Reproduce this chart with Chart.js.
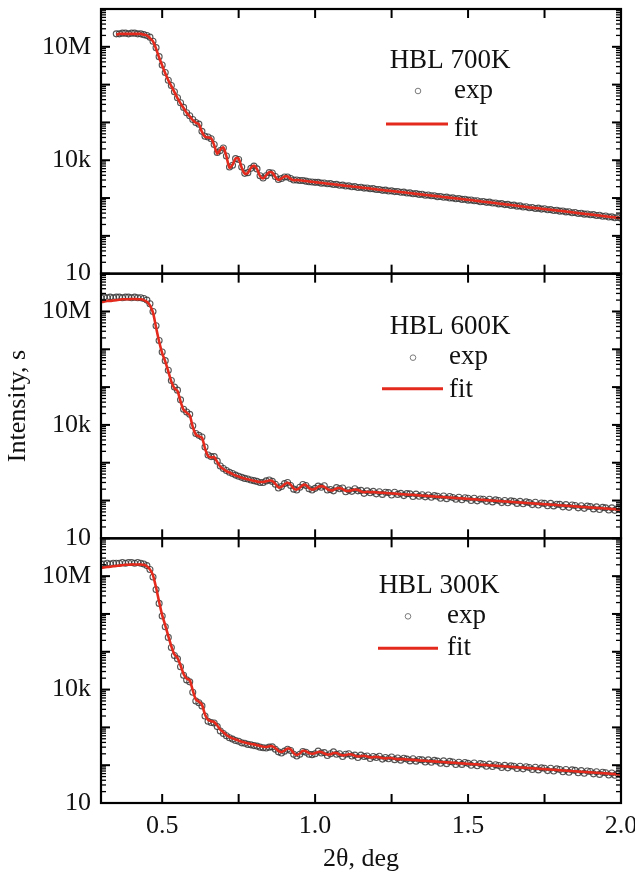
<!DOCTYPE html>
<html>
<head>
<meta charset="utf-8">
<script src="https://cdn.jsdelivr.net/npm/chart.js@4.4.1/dist/chart.umd.min.js"></script>
<style>
  html, body { margin: 0; padding: 0; background: #fff; }
</style>
</head>
<body>
<canvas id="xrr" width="635" height="875"></canvas>
<script>
// ---- Data: 2theta (deg) and intensity (s) ----
const angle = [
  0.30,0.31,0.32,0.33,0.34,0.35,0.36,0.37,0.38,0.39,
  0.40,0.41,0.42,0.43,0.44,0.45,0.46,0.47,0.48,0.49,
  0.50,0.51,0.52,0.53,0.54,0.55,0.56,0.57,0.58,0.59,
  0.60,0.61,0.62,0.63,0.64,0.65,0.66,0.67,0.68,0.69,
  0.70,0.71,0.72,0.73,0.74,0.75,0.76,0.77,0.78,0.79,
  0.80,0.81,0.82,0.83,0.84,0.85,0.86,0.87,0.88,0.89,
  0.90,0.91,0.92,0.93,0.94,0.95,0.96,0.97,0.98,0.99,
  1.00,1.01,1.02,1.03,1.04,1.05,1.06,1.07,1.08,1.09,
  1.10,1.11,1.12,1.13,1.14,1.15,1.16,1.17,1.18,1.19,
  1.20,1.21,1.22,1.23,1.24,1.25,1.26,1.27,1.28,1.29,
  1.30,1.31,1.32,1.33,1.34,1.35,1.36,1.37,1.38,1.39,
  1.40,1.41,1.42,1.43,1.44,1.45,1.46,1.47,1.48,1.49,
  1.50,1.51,1.52,1.53,1.54,1.55,1.56,1.57,1.58,1.59,
  1.60,1.61,1.62,1.63,1.64,1.65,1.66,1.67,1.68,1.69,
  1.70,1.71,1.72,1.73,1.74,1.75,1.76,1.77,1.78,1.79,
  1.80,1.81,1.82,1.83,1.84,1.85,1.86,1.87,1.88,1.89,
  1.90,1.91,1.92,1.93,1.94,1.95,1.96,1.97,1.98,1.99,
  2.00
];

// HBL 700K
const exp700 = [
  null,null,null,null,null,2.2e7,2.2e7,2.3e7,2.3e7,2.2e7,
  2.3e7,2.3e7,2.2e7,2.2e7,2.1e7,2.0e7,1.8e7,1.4e7,9.5e6,5.5e6,
  3.3e6,2.1e6,1.3e6,9.5e5,6.5e5,4.5e5,3.3e5,2.5e5,1.8e5,1.5e5,
  1.2e5,1.0e5,9.0e4,5.8e4,4.3e4,4.1e4,3.7e4,2.6e4,1.6e4,1.8e4,
  2.1e4,1.3e4,6600,7400,1.1e4,1.05e4,6600,4500,4700,6100,
  7000,5900,3900,3400,3900,4700,4600,3700,3100,3300,
  3600,3600,3300,3000,3000,2900,2900,2800,2700,2650,
  2600,2600,2480,2500,2380,2400,2280,2300,2180,2200,
  2080,2100,1990,2010,1900,1930,1830,1850,1760,1770,
  1680,1690,1600,1620,1540,1550,1480,1490,1420,1430,
  1360,1370,1300,1310,1250,1260,1190,1200,1150,1150,
  1090,1100,1050,1060,1000,1010,960,970,920,930,
  880,890,850,850,800,810,770,780,740,740,
  700,710,670,680,640,650,610,620,580,590,
  555,560,530,540,510,520,490,495,470,475,
  450,455,430,435,410,415,390,395,375,380,
  360,365,345,350,330,335,315,318,300,305,
  290
];
const fit700 = [
  null,null,null,null,null,2.1e7,2.2e7,2.2e7,2.2e7,2.2e7,
  2.2e7,2.2e7,2.2e7,2.2e7,2.1e7,2.0e7,1.7e7,1.4e7,8.9e6,5.2e6,
  3.2e6,2.0e6,1.3e6,9.1e5,6.3e5,4.4e5,3.2e5,2.4e5,1.8e5,1.45e5,
  1.15e5,9.8e4,8.9e4,5.6e4,4.2e4,4.0e4,3.8e4,2.5e4,1.5e4,1.9e4,
  2.2e4,1.26e4,6300,7600,1.12e4,1.1e4,6300,4400,4600,6300,
  7200,5800,3800,3300,4000,4800,4700,3600,3000,3300,
  3700,3700,3200,2950,3000,2950,2880,2820,2750,2690,
  2630,2570,2520,2460,2410,2360,2310,2260,2210,2160,
  2110,2070,2020,1980,1940,1900,1860,1820,1780,1740,
  1700,1660,1630,1590,1560,1530,1500,1470,1440,1410,
  1380,1350,1320,1290,1270,1240,1210,1190,1160,1140,
  1110,1090,1070,1040,1020,1000,980,960,940,920,
  900,880,860,840,820,800,785,770,750,735,
  720,700,685,670,655,640,625,610,595,580,
  565,555,545,535,520,510,500,490,480,470,
  460,450,440,430,420,410,400,392,384,376,
  368,360,352,344,336,328,320,313,306,300,
  294
];

// HBL 600K
const exp600 = [
  2.3e7,2.4e7,2.3e7,2.4e7,2.3e7,2.4e7,2.4e7,2.3e7,2.4e7,2.4e7,
  2.3e7,2.4e7,2.3e7,2.3e7,2.2e7,2.0e7,1.6e7,1.0e7,4.2e6,1.7e6,
  8.5e5,5.0e5,2.8e5,1.5e5,1.0e5,8.3e4,4.6e4,2.6e4,2.2e4,1.9e4,
  9500,5900,5300,4800,2600,1600,1450,1450,1100,820,
  700,620,560,520,470,440,410,385,370,350,
  335,320,300,300,330,350,320,270,215,235,
  280,300,250,200,190,225,265,250,205,190,
  210,240,225,245,190,195,180,220,205,215,
  170,190,175,205,180,185,155,180,160,175,
  150,170,145,165,162,140,165,145,155,135,
  152,150,128,148,130,142,125,140,122,135,
  130,115,132,112,128,120,108,122,105,118,
  115,100,115,98,110,108,95,108,92,104,
  100,88,100,87,98,95,84,95,82,92,
  88,78,90,76,86,84,73,84,72,80,
  79,68,78,66,76,74,64,73,62,71,
  69,60,68,58,66,64,56,64,55,62,
  57
];
const fit600 = [
  1.8e7,1.8e7,1.9e7,1.9e7,1.95e7,2.0e7,2.04e7,2.1e7,2.1e7,2.1e7,
  2.14e7,2.14e7,2.1e7,2.1e7,2.0e7,1.8e7,1.45e7,9.3e6,3.8e6,1.6e6,
  7.9e5,4.8e5,2.6e5,1.4e5,9.3e4,7.9e4,4.2e4,2.5e4,2.1e4,1.8e4,
  8900,5600,5000,4600,2400,1500,1380,1410,1050,790,
  680,600,550,500,460,430,400,380,363,347,
  331,316,309,309,324,339,331,275,224,229,
  269,295,263,209,195,219,257,257,214,195,
  204,229,240,229,200,186,191,209,214,200,
  182,178,186,195,191,174,166,170,166,167,
  164,162,160,158,156,154,152,150,148,146,
  144,142,141,139,137,135,133,132,130,128,
  126,124.5,123,121,120,118,117,115,114,112,
  111,109,108,106,105,104,102,101,99.6,98.3,
  97,95.8,94.6,93.4,92.2,91,89.8,88.6,87.4,86.3,
  85.1,84,83,82,81,80,79,78,77,76,
  74.7,73.7,72.7,71.8,70.9,70,69,68,67.2,66.3,
  65.5,64.6,63.8,63,62.2,61.4,60.6,59.8,59,58.3,
  57.5
];

// HBL 300K
const exp300 = [
  2.1e7,2.1e7,2.2e7,2.1e7,2.2e7,2.2e7,2.2e7,2.3e7,2.2e7,2.3e7,
  2.3e7,2.2e7,2.3e7,2.2e7,2.1e7,1.9e7,1.5e7,9.5e6,4.4e6,1.9e6,
  8.8e5,4.6e5,2.4e5,1.3e5,8.0e4,6.5e4,4.0e4,2.4e4,1.8e4,1.6e4,
  8500,5000,4500,3700,2000,1450,1350,1300,1050,800,
  690,600,530,490,450,430,390,380,355,345,
  330,320,300,290,285,300,305,265,225,210,
  235,265,245,195,175,195,230,220,195,190,
  200,235,210,215,180,200,225,195,200,170,
  195,200,175,185,160,185,170,175,150,170,
  160,172,145,160,148,165,140,155,136,152,
  145,130,148,128,142,138,122,138,120,134,
  128,113,130,110,126,122,104,120,105,118,
  112,100,114,97,110,106,94,107,92,103,
  98,87,99,85,96,94,82,94,80,91,
  87,77,88,75,85,83,72,83,70,80,
  77,67,77,65,75,73,63,72,61,70,
  68,59,67,57,65,63,55,62,54,60,
  55
];
const fit300 = [
  1.66e7,1.7e7,1.74e7,1.78e7,1.82e7,1.86e7,1.9e7,1.95e7,2.0e7,2.0e7,
  2.04e7,2.04e7,2.04e7,2.04e7,2.0e7,1.82e7,1.51e7,1.05e7,5.0e6,2.1e6,
  9.3e5,5.0e5,2.6e5,1.4e5,8.5e4,6.9e4,4.4e4,2.6e4,1.95e4,1.78e4,
  9500,5500,4800,4000,2200,1580,1450,1380,1120,870,
  740,630,560,513,479,447,417,398,380,363,
  355,339,324,309,302,316,316,282,240,224,
  245,275,263,209,186,204,240,234,209,200,
  209,224,224,204,191,195,209,209,191,182,
  186,195,191,178,170,174,178,170,162,162,
  166,162,155,151,155,155,148,145,145,145,
  141,139,138,136,134,132,131,129,127,126,
  124,122,121,119,118,116,115,113,112,110,
  109,107,106,105,103,102,101,99,98,97,
  95.5,94.3,93.1,91.9,90.7,89.5,88.3,87.2,86.1,85,
  83.9,82.8,81.7,80.6,79.6,78.6,77.6,76.6,75.6,74.6,
  73.6,72.6,71.7,70.8,69.9,69,68.1,67.2,66.3,65.4,
  64.6,63.8,63,62.2,61.4,60.6,59.8,59,58.2,57.5,
  56.7
];

const panelNames  = ['HBL 700K', 'HBL 600K', 'HBL 300K'];
const xTickValues = [0.5, 1.0, 1.5, 2.0];
const yTickValues = [10, 1e4, 1e7];
const yTickLabels = ['10', '10k', '10M'];

// ---- Styles ----
const SERIF = "'Liberation Serif', 'Times New Roman', serif";
const FONT  = { family: SERIF, size: 26 };
const INK   = '#111';
const RED   = '#e32a1c';
const GREY  = 'rgba(55,55,55,0.85)';
const PANELS = ['y1', 'y2', 'y3'];   // top to bottom

// legend placement inside each panel (px from panel top)
const LEGEND_POS = [
  { tx: 450, tY: 59, cx: 418, cY: 82, ex: 454, eY: 89, l1: 386, l2: 448, lY: 115, fY: 127 },
  { tx: 450, tY: 60, cx: 413, cY: 84, ex: 449, eY: 90, l1: 382, l2: 443, lY: 115, fY: 123 },
  { tx: 439, tY: 55, cx: 408, cY: 78, ex: 447, eY: 85, l1: 378, l2: 438, lY: 110, fY: 117 },
];

function points(ys) {
  return angle.map((x, i) => ({ x, y: ys[i] })).filter(p => p.y != null);
}

function expSet(ys, axis) {
  return {
    label: 'exp', data: points(ys), yAxisID: axis, order: 2,
    showLine: false, pointStyle: 'circle', pointRadius: 3, pointBorderWidth: 1.1,
    pointBorderColor: GREY, pointBackgroundColor: 'rgba(255,255,255,0)',
  };
}

function fitSet(ys, axis) {
  return {
    label: 'fit', data: points(ys), yAxisID: axis, order: 1,
    showLine: true, borderColor: RED, borderWidth: 2.6, tension: 0.25,
    pointRadius: 0, fill: false,
  };
}

function yAxis(withTitle) {
  return {
    type: 'logarithmic', position: 'left', stack: 'panels', stackWeight: 1,
    min: 10, max: 1e8,
    afterBuildTicks: s => { s.ticks = yTickValues.map(v => ({ value: v })); },
    afterFit: s => { s.width = 101; s.paddingTop = 0; s.paddingBottom = 0; },
    ticks: {
      font: FONT, color: INK, padding: 10, autoSkip: false,
      callback: v => yTickLabels[yTickValues.indexOf(v)] ?? '',
    },
    grid: { display: false, drawTicks: false },
    border: { display: false },
    title: {
      display: withTitle, text: 'Intensity, s', font: FONT, color: INK,
      padding: { top: 3, bottom: 0 },
    },
  };
}

// ---- Frames, inward ticks and per-panel legends ----
function line(ctx, x1, y1, x2, y2) {
  ctx.beginPath(); ctx.moveTo(x1, y1); ctx.lineTo(x2, y2); ctx.stroke();
}

const framePlugin = {
  id: 'frames',
  afterDatasetsDraw(chart) {
    const { ctx } = chart;
    const xs = chart.scales.x;
    const L = xs.left, R = xs.right;
    ctx.save();
    ctx.strokeStyle = '#000';
    PANELS.forEach(id => {
      const ys = chart.scales[id];
      const T = ys.top, B = ys.bottom;
      // x ticks every 0.25 deg, top and bottom
      ctx.lineWidth = 2;
      for (let v = 0.5; v <= 2.0001; v += 0.25) {
        const px = xs.getPixelForValue(v);
        line(ctx, px, T, px, T + 9);
        line(ctx, px, B, px, B - 9);
      }
      // y ticks: decades long, 2..9 short
      for (let e = 1; e < 8; e++) {
        for (let m = 1; m <= 9; m++) {
          const py = ys.getPixelForValue(m * Math.pow(10, e));
          const len = m === 1 ? 9 : 5;
          ctx.lineWidth = m === 1 ? 2 : 1.3;
          line(ctx, L, py, L + len, py);
          line(ctx, R, py, R - len, py);
        }
      }
      ctx.lineWidth = 2.2;
      ctx.strokeRect(L, T, R - L, B - T);
    });
    ctx.restore();
  },
  afterDraw(chart) {
    const { ctx } = chart;
    ctx.save();
    ctx.fillStyle = INK;
    ctx.textBaseline = 'alphabetic';
    PANELS.forEach((id, k) => {
      const top = chart.scales[id].top;
      const p = LEGEND_POS[k];
      ctx.font = `27px ${SERIF}`;
      ctx.textAlign = 'center';
      ctx.fillText(panelNames[k], p.tx, top + p.tY);
      ctx.textAlign = 'left';
      ctx.fillText('exp', p.ex, top + p.eY);
      ctx.fillText('fit', p.ex, top + p.fY);
      ctx.strokeStyle = 'rgba(110,110,110,0.9)';
      ctx.lineWidth = 1;
      ctx.beginPath(); ctx.arc(p.cx, top + p.cY, 2.8, 0, Math.PI * 2); ctx.stroke();
      ctx.strokeStyle = RED;
      ctx.lineWidth = 3;
      line(ctx, p.l1, top + p.lY, p.l2, top + p.lY);
    });
    ctx.restore();
  }
};

new Chart(document.getElementById('xrr'), {
  type: 'scatter',
  data: {
    datasets: [
      fitSet(fit700, 'y1'), expSet(exp700, 'y1'),
      fitSet(fit600, 'y2'), expSet(exp600, 'y2'),
      fitSet(fit300, 'y3'), expSet(exp300, 'y3'),
    ]
  },
  options: {
    responsive: false,
    animation: false,
    layout: { padding: { top: 9, right: 14, bottom: 0, left: 0 } },
    plugins: { legend: { display: false }, tooltip: { enabled: false } },
    scales: {
      x: {
        type: 'linear', min: 0.3, max: 2.0,
        afterBuildTicks: s => { s.ticks = xTickValues.map(v => ({ value: v })); },
        afterFit: s => { s.height = 72; s.paddingLeft = 0; s.paddingRight = 0; },
        ticks: {
          font: FONT, color: INK, padding: 8, maxRotation: 0, autoSkip: false,
          callback: v => v.toFixed(1),
        },
        grid: { display: false, drawTicks: false },
        border: { display: false },
        title: {
          display: true, text: '2θ, deg', font: FONT, color: INK,
          padding: { top: 0, bottom: 0 },
        },
      },
      // stacked left axes are laid out last-defined on top
      y3: yAxis(false),
      y2: yAxis(true),
      y1: yAxis(false),
    }
  },
  plugins: [framePlugin]
});
</script>
</body>
</html>
